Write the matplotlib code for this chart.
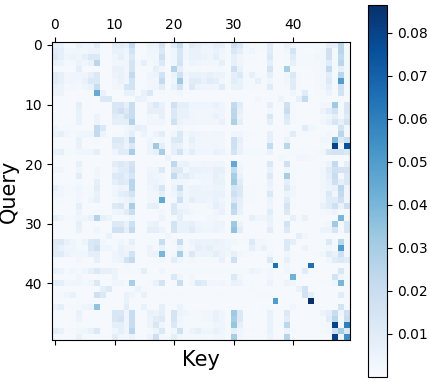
import numpy as np
import matplotlib
matplotlib.use("Agg")
import matplotlib.pyplot as plt

# attention weights in thousandths, rows = Query, columns = Key
attention_rows = [
 [7,6,2,2,6,4,4,9,1,1, 9,9,7,22,2,2,5,5,15,1, 10,20,3,10,7,5,5,8,7,2, 18,12,3,2,2,2,9,1,1,6, 4,2,2,2,2,2,8,7,25,2],
 [10,8,3,3,3,3,5,5,1,1, 6,6,4,16,1,1,4,4,12,1, 4,14,3,6,6,4,4,6,4,2, 12,8,2,4,2,2,10,1,1,3, 15,2,1,1,2,3,17,2,25,2],
 [11,8,4,5,4,7,12,12,1,1, 4,7,3,12,1,2,3,3,18,2, 4,14,3,6,6,5,4,8,3,2, 7,4,2,2,1,1,12,1,1,2, 10,2,2,2,3,3,17,2,22,2],
 [6,5,2,2,5,4,6,24,1,1, 3,3,4,15,2,7,2,3,12,1, 4,15,2,5,4,3,3,3,7,1, 7,4,2,1,1,1,8,1,1,2, 7,2,2,2,2,4,10,2,25,2],
 [1,1,1,1,8,1,1,1,1,1, 6,6,3,15,1,1,1,7,3,1, 26,8,2,2,2,1,2,2,2,1, 18,6,1,1,1,1,15,1,1,30, 2,1,1,1,2,3,22,2,8,2],
 [10,7,3,4,4,4,7,12,1,1, 5,6,4,22,1,1,4,5,16,1, 5,17,3,6,6,5,7,5,5,1, 7,11,2,7,2,2,8,1,1,4, 12,2,1,1,2,3,9,2,25,2],
 [10,7,3,4,3,6,12,12,1,1, 3,6,3,16,1,1,3,3,22,1, 4,32,3,10,10,6,10,8,3,2, 9,6,2,2,7,2,4,1,1,3, 10,2,1,1,2,3,11,2,50,2],
 [6,5,2,3,2,4,6,20,1,1, 3,3,14,16,1,2,3,4,9,1, 6,16,2,11,5,4,4,4,10,2, 6,6,2,2,2,2,10,1,1,2, 10,2,1,1,2,3,8,2,18,2],
 [5,5,1,1,1,1,2,44,6,1, 1,1,6,6,1,6,12,1,2,1, 2,3,1,1,1,1,1,1,1,1, 1,1,1,1,1,1,1,1,1,1, 4,1,10,1,2,2,5,1,16,1],
 [1,1,1,1,1,1,1,2,12,12, 1,1,1,1,6,5,1,1,1,1, 1,1,1,1,1,1,1,1,1,1, 1,1,1,1,3,1,1,1,5,1, 1,7,22,2,1,2,1,1,2,1],
 [1,1,1,1,8,1,1,1,1,1, 13,13,7,20,1,1,6,12,6,1, 17,8,8,4,4,4,4,6,4,1, 22,10,1,1,1,1,8,1,1,18, 2,1,1,1,1,3,3,32,1,13],
 [1,1,1,1,6,1,1,1,1,1, 13,18,11,20,1,1,7,7,7,1, 12,6,6,4,3,3,3,4,4,1, 24,7,1,1,1,1,3,1,1,20, 2,1,1,1,1,5,10,16,2,13],
 [1,1,1,1,6,1,1,5,1,1, 10,8,16,20,1,1,3,2,7,1, 12,6,6,4,3,3,3,6,4,1, 24,5,1,1,1,1,13,1,1,12, 2,1,1,1,1,2,4,8,2,10],
 [1,1,1,1,6,1,1,5,1,1, 8,8,8,27,1,1,3,4,4,1, 17,5,4,4,3,3,3,3,6,1, 28,8,1,1,1,1,8,1,1,10, 2,1,1,1,1,3,6,14,7,16],
 [4,2,2,2,1,1,1,22,12,1, 1,1,3,5,8,6,1,1,1,1, 1,3,1,2,1,1,1,1,1,1, 1,1,1,1,1,1,1,1,1,1, 1,1,10,3,2,1,1,1,16,2],
 [5,7,3,2,3,4,4,22,5,1, 2,2,4,8,1,5,1,5,9,1, 4,12,3,5,4,3,3,4,4,1, 4,4,2,2,1,1,7,1,1,2, 10,2,2,1,1,1,3,2,25,2],
 [1,1,1,1,6,1,1,2,1,1, 12,12,6,25,1,1,4,1,3,1, 11,12,2,7,3,3,3,3,3,1, 18,7,1,1,1,1,7,1,1,5, 1,1,1,1,1,3,3,38,12,18],
 [1,1,1,1,6,1,1,1,1,1, 10,10,5,12,1,1,5,32,8,1, 7,6,2,5,3,3,3,4,3,1, 18,6,1,1,1,1,22,1,1,25, 1,1,1,1,1,2,2,80,3,75],
 [6,7,2,2,3,3,4,8,1,1, 4,10,10,30,1,1,5,7,30,1, 7,16,4,9,4,4,3,6,5,2, 15,6,2,2,2,2,6,1,1,2, 2,2,2,1,2,3,14,16,16,12],
 [1,1,1,1,1,1,1,1,1,1, 1,1,1,1,1,1,1,1,1,5, 1,1,1,1,1,1,1,1,1,1, 1,1,1,1,1,1,1,1,3,2, 1,3,3,2,1,1,1,1,1,1],
 [1,1,1,1,7,1,1,1,1,1, 9,12,9,15,1,1,1,2,1,1, 23,5,6,3,3,4,3,4,4,1, 45,3,1,1,1,1,12,1,1,18, 1,1,1,1,1,2,5,22,1,8],
 [4,4,1,1,4,1,1,4,1,1, 5,10,10,18,1,1,4,4,12,1, 11,11,3,6,6,5,5,7,7,2, 22,4,1,1,1,1,6,1,1,4, 2,1,1,1,1,3,10,17,15,15],
 [1,1,1,1,9,1,1,3,1,1, 11,12,8,14,1,1,5,4,3,1, 22,7,10,6,4,4,4,7,5,1, 30,6,1,1,1,1,11,1,1,30, 2,1,1,1,1,3,8,20,2,12],
 [1,1,1,1,2,1,1,8,1,1, 8,11,10,25,1,1,5,5,3,1, 4,4,3,2,2,3,3,6,6,1, 32,10,1,1,1,1,6,1,1,8, 2,1,1,1,1,3,6,18,8,12],
 [7,4,2,2,4,2,2,9,1,1, 3,5,4,25,1,1,4,6,14,1, 5,20,3,5,5,4,4,5,5,1, 15,12,2,2,1,1,5,1,1,12, 4,1,1,1,1,3,5,6,24,4],
 [4,3,2,2,3,2,2,6,1,1, 4,8,10,16,1,1,3,3,8,1, 4,10,3,5,5,5,5,6,6,2, 18,12,2,2,1,1,12,1,1,5, 3,1,1,1,1,3,12,3,22,3],
 [2,2,1,1,3,1,4,7,1,1, 2,4,5,8,1,1,3,4,45,1, 2,18,3,8,5,5,4,6,4,2, 12,8,2,2,1,1,5,1,1,10, 2,1,1,1,1,3,10,10,18,3],
 [1,1,1,1,8,1,1,1,1,1, 11,13,4,30,1,1,7,8,2,1, 12,4,4,2,2,2,3,8,5,1, 25,7,1,1,1,1,4,1,1,15, 2,1,1,1,1,6,10,18,6,18],
 [1,1,1,1,5,1,1,2,1,1, 4,5,10,20,1,1,1,1,3,1, 12,7,5,3,2,2,2,4,6,1, 22,6,1,1,1,1,10,1,1,12, 1,1,1,1,1,2,3,5,2,2],
 [7,4,2,2,4,4,6,26,7,5, 1,1,1,4,1,1,1,1,5,1, 2,8,1,2,1,1,3,3,2,1, 2,2,1,7,4,4,6,1,2,1, 7,2,6,1,1,1,1,1,40,2],
 [1,1,1,1,7,1,1,1,1,1, 11,11,6,18,1,1,5,6,1,1, 16,6,6,7,4,3,3,5,5,1, 32,5,1,1,1,1,5,1,1,16, 1,1,1,1,1,2,3,32,2,13],
 [1,1,1,1,6,1,1,4,1,1, 17,17,8,22,1,1,8,8,5,1, 15,6,6,10,5,4,4,5,4,1, 35,9,1,1,1,1,9,1,1,11, 1,1,1,1,1,5,5,14,2,13],
 [1,1,1,1,1,1,1,1,1,6, 1,1,1,1,1,1,1,1,1,4, 1,1,1,1,1,1,1,1,1,1, 1,1,2,1,1,1,1,1,1,1, 1,8,3,1,1,1,1,1,1,1],
 [11,11,6,4,2,5,12,14,3,1, 2,4,2,8,1,1,2,2,20,1, 3,20,2,5,6,5,5,6,5,4, 3,2,2,11,3,3,2,1,1,12, 8,1,1,1,1,2,12,2,25,2],
 [10,6,4,4,2,2,12,17,4,4, 2,6,4,4,1,1,5,2,6,1, 2,6,2,3,8,6,8,5,5,4, 1,1,1,8,3,6,2,1,1,12, 1,1,5,1,1,2,3,2,50,2],
 [10,10,5,3,3,4,8,8,1,1, 4,6,5,16,1,1,5,6,40,1, 3,30,3,12,5,5,5,8,5,3, 7,3,2,2,1,1,3,1,1,4, 2,1,1,1,2,3,10,6,18,2],
 [1,1,1,1,3,1,1,7,1,1, 4,5,16,22,1,1,1,2,3,1, 9,4,2,3,2,2,2,2,6,1, 18,1,1,1,1,1,12,1,1,7, 1,1,1,1,1,1,4,10,12,10],
 [1,1,1,1,1,1,1,1,1,1, 1,1,3,1,1,1,1,1,1,1, 1,1,1,1,1,1,1,1,1,1, 1,1,1,1,1,1,1,65,2,3, 1,1,1,65,1,1,1,1,1,1],
 [6,5,2,4,2,4,7,12,7,7, 5,2,2,2,2,8,1,1,4,1, 2,2,2,2,2,2,2,2,2,2, 2,2,2,5,4,2,3,2,1,4, 2,1,10,2,1,1,1,1,13,1],
 [1,1,1,1,4,1,1,1,1,1, 5,1,1,1,1,1,1,1,1,1, 12,4,1,3,1,1,1,1,1,1, 12,3,1,1,1,1,3,1,2,1, 42,2,1,1,1,1,1,16,4,2],
 [9,8,3,4,4,2,4,12,1,1, 3,4,2,30,1,1,2,6,16,1, 2,20,1,3,12,10,3,3,4,2, 6,5,2,2,1,1,5,1,1,5, 4,1,1,1,1,2,2,4,40,2],
 [1,1,1,1,1,1,1,1,8,11, 1,1,1,1,5,2,1,1,1,1, 1,1,1,1,1,1,1,1,1,1, 1,1,1,2,1,1,1,1,1,1, 1,6,16,1,1,1,1,1,1,1],
 [2,2,4,6,1,1,1,18,12,1, 1,1,6,4,1,6,1,1,2,1, 1,2,1,1,1,1,1,1,2,1, 1,1,1,1,2,2,2,1,1,1, 1,1,16,8,1,1,1,1,10,1],
 [1,1,1,1,2,1,1,1,1,1, 1,1,6,1,1,1,1,1,1,1, 1,1,1,1,1,1,1,1,1,1, 1,1,1,1,1,1,1,50,1,1, 1,1,1,86,1,1,1,1,1,1],
 [5,8,2,2,2,4,5,35,1,1, 1,1,9,2,1,6,1,1,8,1, 1,5,1,1,1,1,1,1,1,1, 1,1,1,1,1,2,2,1,1,1, 3,1,1,1,1,1,1,1,16,1],
 [1,1,1,1,6,1,1,1,1,1, 13,13,4,20,1,1,6,5,8,1, 15,5,4,2,2,3,3,6,4,1, 32,12,1,1,1,1,6,1,1,12, 1,1,1,1,1,5,8,20,4,18],
 [1,1,1,1,5,1,1,1,1,1, 13,16,4,20,1,1,5,9,11,1, 15,4,2,2,2,3,3,6,4,1, 30,12,1,1,1,1,6,1,1,9, 1,1,1,1,1,2,10,25,2,20],
 [1,1,1,1,2,1,1,1,1,1, 8,8,4,20,1,1,5,13,4,1, 12,3,2,2,2,2,2,4,4,1, 34,7,1,1,1,1,6,1,1,24, 1,1,1,1,1,2,3,80,2,60],
 [9,6,2,2,3,4,6,12,1,1, 4,8,4,25,1,1,2,5,12,1, 3,18,2,5,7,4,4,6,4,2, 7,4,2,2,1,1,6,1,1,5, 2,1,1,1,1,2,3,18,30,12],
 [1,1,1,1,6,1,1,1,1,1, 9,4,3,5,1,1,5,18,2,1, 8,3,2,2,2,2,2,3,3,1, 30,3,1,1,1,1,5,1,1,26, 1,1,1,1,1,1,2,80,4,55],
]
heat_ticks = [0, 10, 20, 30, 40]
cbar_ticks = [0.01, 0.02, 0.03, 0.04, 0.05, 0.06, 0.07, 0.08]

W, H = 430, 382
data = np.array(attention_rows) / 1000.0

fig = plt.figure(figsize=(W / 100, H / 100), dpi=100)
ax = fig.add_axes([52 / W, 1 - 340 / H, 298 / W, 298 / H])
im = ax.imshow(data, cmap="Blues", vmin=0.0, vmax=0.0865, aspect="equal",
               interpolation="nearest")
ax.set_xticks(heat_ticks)
ax.set_yticks(heat_ticks)
ax.tick_params(axis="x", top=True, bottom=True, labeltop=True, labelbottom=False,
               labelsize=10)
ax.tick_params(axis="y", labelsize=10)
ax.set_xlabel("Key", fontsize=15, labelpad=4)
ax.set_ylabel("Query", fontsize=15, labelpad=4)

cax = fig.add_axes([368 / W, 1 - 377 / H, 19 / W, 372 / H])
cb = fig.colorbar(im, cax=cax)
cb.set_ticks(cbar_ticks)
cb.ax.tick_params(labelsize=10)

fig.savefig("out.png", dpi=100)
